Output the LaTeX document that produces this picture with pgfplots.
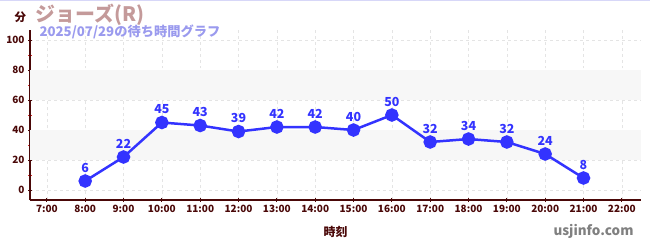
\documentclass[border=0pt]{standalone}
\usepackage{fontspec}
\setmainfont{Noto Sans CJK JP}
\usepackage{pgfplots}
\pgfplotsset{compat=1.18}
\definecolor{axred}{HTML}{4A0808}
\definecolor{minred}{HTML}{DD2222}
\definecolor{ttl}{HTML}{C49A9A}
\definecolor{sub}{HTML}{9A9AEE}
\definecolor{ln}{HTML}{3333FF}
\definecolor{band}{HTML}{F7F7F7}
\definecolor{grd}{HTML}{E4E4E4}
\begin{document}
\begin{tikzpicture}[x=1bp,y=1bp]
\useasboundingbox (0,0) rectangle (650,250);
\draw[color=sub!40,line width=0.6bp] (0,249.7) -- (650,249.7);
\begin{axis}[
  at={(30bp,50bp)}, anchor=south west,
  scale only axis, width=611bp, height=170bp,
  xmin=6.56, xmax=22.5, ymin=-6.67, ymax=106.7,
  axis lines*=left,
  axis line style={axred, line width=1.2bp, -},
  xtick={7,...,22},
  xticklabels={7:00,8:00,9:00,10:00,11:00,12:00,13:00,14:00,15:00,16:00,17:00,18:00,19:00,20:00,21:00,22:00},
  ytick={0,20,...,100},
  minor ytick={10,30,50,70,90},
  tick style={axred, line width=0.8bp},
  minor tick style={minred, line width=0.8bp},
  major tick length=4bp, minor tick length=4bp,
  tick align=center,
  ticklabel style={font=\fontsize{10}{12}\selectfont\bfseries, text=axred},
  grid=major,
  major grid style={grd, dashed, line width=0.6bp},
  xlabel={時刻},
  xlabel style={font=\fontsize{12}{14}\selectfont\bfseries, text=axred, yshift=-6bp},
  clip=false,
  /pgf/number format/assume math mode=true,
]
\fill[band] (axis cs:6.56,20) rectangle (axis cs:22.5,40);
\fill[band] (axis cs:6.56,60) rectangle (axis cs:22.5,80);
\addplot[ln, line width=2.5bp, mark=*, mark size=5.5bp,
  nodes near coords,
  every node near coord/.append style={font=\fontsize{12.5}{14}\selectfont\bfseries, text=ln, yshift=4bp}]
coordinates {
(8,6) (9,22) (10,45) (11,43) (12,39) (13,42) (14,42) (15,40) (16,50) (17,32) (18,34) (19,32) (20,24) (21,8)
};
\end{axis}
\node[anchor=west, font=\fontsize{11.5}{13}\selectfont\bfseries, text=axred] at (11,233) {分};
\node[anchor=west, font=\fontsize{20}{22}\selectfont\bfseries, text=ttl] at (32,235) {ジョーズ(R)};
\node[anchor=west, font=\fontsize{13.3}{15}\selectfont\bfseries, text=sub] at (36,218.5) {2025/07/29の待ち時間グラフ};
\node[anchor=east, font=\fontsize{13.5}{15}\selectfont\bfseries, text=gray] at (637,19) {usjinfo.com};
\end{tikzpicture}
\end{document}
